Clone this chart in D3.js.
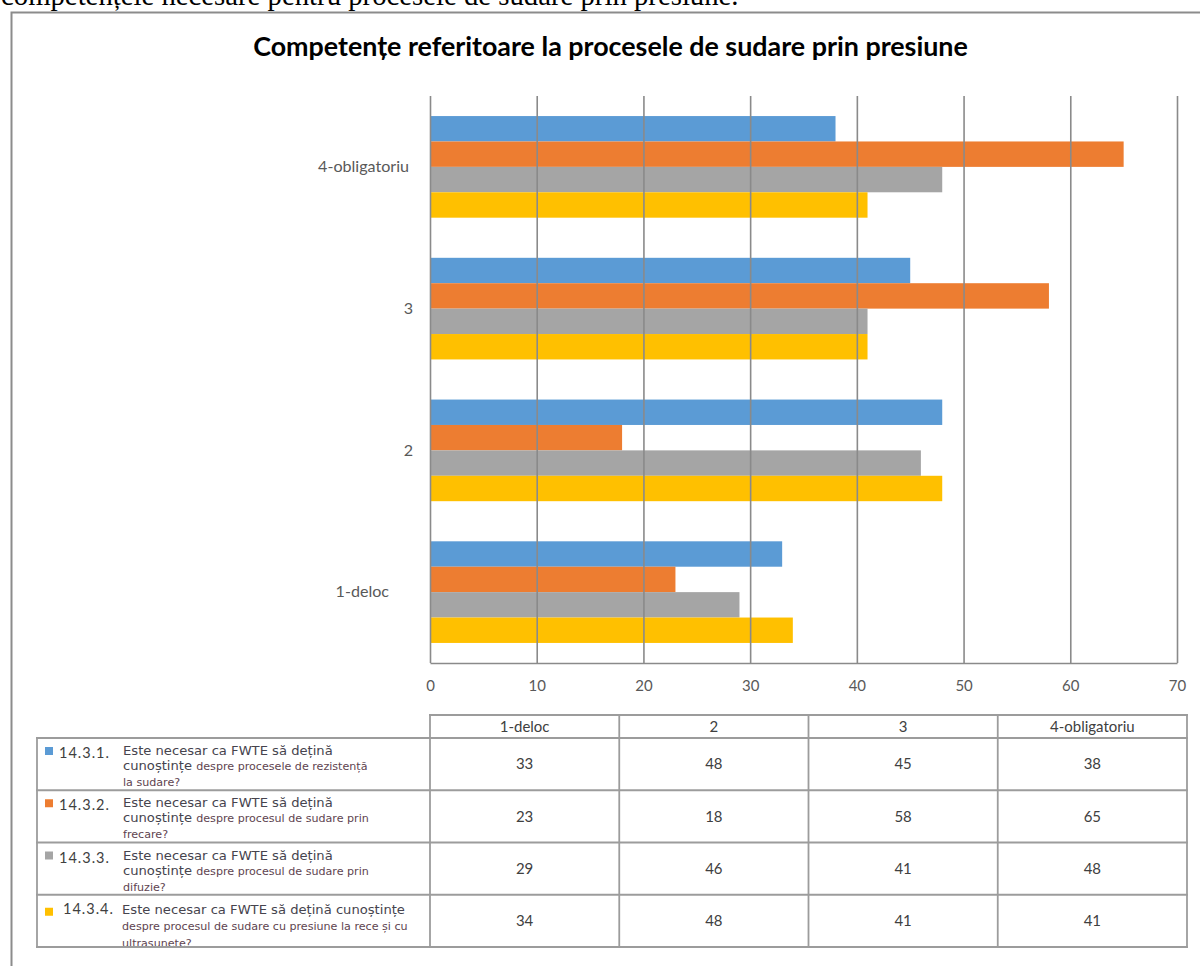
<!DOCTYPE html>
<html>
<head>
<meta charset="utf-8">
<script src="https://cdn.jsdelivr.net/npm/d3@7"></script>
<style>
  html, body { margin: 0; padding: 0; background: #fff; }
  svg { display: block; }
</style>
</head>
<body>
<svg id="chart" width="1200" height="966"></svg>
<script>
// ---- data ----
const categories = ["1-deloc", "2", "3", "4-obligatoriu"];
const seriesCodes = ["14.3.1.", "14.3.2.", "14.3.3.", "14.3.4."];
const series1 = [33, 48, 45, 38];
const series2 = [23, 18, 58, 65];
const series3 = [29, 46, 41, 48];
const series4 = [34, 48, 41, 41];
const seriesValues = [series1, series2, series3, series4];
const xTicks = [0, 10, 20, 30, 40, 50, 60, 70];

// question text of each series, line by line; "b" = regular run, "s" = small run
const questionLines = [
  [[["b", "Este necesar ca FWTE să dețină"]],
   [["b", "cunoștințe "], ["s", "despre procesele de rezistență"]],
   [["s", "la sudare?"]]],
  [[["b", "Este necesar ca FWTE să dețină"]],
   [["b", "cunoștințe "], ["s", "despre procesul de sudare prin"]],
   [["s", "frecare?"]]],
  [[["b", "Este necesar ca FWTE să dețină"]],
   [["b", "cunoștințe "], ["s", "despre procesul de sudare prin"]],
   [["s", "difuzie?"]]],
  [[["b", "Este necesar ca FWTE să dețină cunoștințe"]],
   [["s", "despre procesul de sudare cu presiune la rece și cu"]],
   [["s", "ultrasunete?"]]]
];

const chartTitle = "Competențe referitoare la procesele de sudare prin presiune";
const pageLine = "competențele necesare pentru procesele de sudare prin presiune.";

// ---- styles ----
const seriesColors = ["#5B9BD5", "#ED7D31", "#A5A5A5", "#FFC000"];
const gridColor = "#8a8a8a";
const tableColor = "#9c9c9c";
const labelColor = "#595959";
const sansFont = "Lato, 'Open Sans', sans-serif";
const questionFont = "'DejaVu Sans', Verdana, sans-serif";

const svg = d3.select("#chart");
svg.append("rect").attr("width", 1200).attr("height", 966).attr("fill", "#fff");

// scale font size of a text element so it spans the wanted width
function fitWidth(sel, width) {
  const w = sel.node().getComputedTextLength();
  const fs = parseFloat(sel.attr("font-size"));
  const nfs = fs * width / w;
  sel.attr("font-size", nfs);
  return nfs;
}

// running text line of the surrounding document, clipped by the page top
const pageText = svg.append("text")
  .attr("x", 1).attr("y", 5)
  .attr("font-family", "'Liberation Serif', 'Times New Roman', serif")
  .attr("font-size", 24).attr("fill", "#000")
  .text(pageLine);
fitWidth(pageText, 738);

// chart frame
svg.append("path")
  .attr("d", "M11.5,966 V12.5 H1200")
  .attr("fill", "none").attr("stroke", "#8c8c8c").attr("stroke-width", 2);

// title
const title = svg.append("text")
  .attr("x", 610.5).attr("y", 56)
  .attr("text-anchor", "middle")
  .attr("font-family", sansFont).attr("font-weight", "bold")
  .attr("font-size", 22).attr("fill", "#000")
  .text(chartTitle);
fitWidth(title, 715);

// ---- plot area ----
const plot = { left: 430, right: 1177, top: 96, bottom: 663 };

const x = d3.scaleLinear().domain([0, 70]).range([plot.left, plot.right]);
const y = d3.scaleBand()
  .domain(categories.slice().reverse())
  .range([plot.top, plot.bottom])
  .paddingInner(0.283).paddingOuter(0.1415);
const ySeries = d3.scaleBand()
  .domain(d3.range(seriesCodes.length))
  .range([0, y.bandwidth()]);

// measure label font size from the widest category label
const probe = svg.append("text").attr("font-family", sansFont)
  .attr("font-size", 15).text("4-obligatoriu");
const labelSize = fitWidth(probe, 91);
probe.remove();

// bars
const barData = [];
seriesValues.forEach((vals, s) => {
  vals.forEach((v, c) => barData.push({ s, cat: categories[c], v }));
});
svg.append("g").selectAll("rect")
  .data(barData)
  .join("rect")
  .attr("x", x(0))
  .attr("y", d => y(d.cat) + ySeries(d.s))
  .attr("width", d => x(d.v) - x(0))
  .attr("height", ySeries.bandwidth())
  .attr("fill", d => seriesColors[d.s]);

// vertical gridlines + bottom axis
const xAxis = svg.append("g")
  .attr("transform", `translate(0,${plot.bottom})`)
  .call(d3.axisBottom(x).tickValues(xTicks)
    .tickSize(-(plot.bottom - plot.top)).tickSizeOuter(0).tickPadding(17));
xAxis.selectAll("line").attr("stroke", gridColor).attr("stroke-width", 1.6);
xAxis.select(".domain").attr("stroke", gridColor).attr("stroke-width", 1.6);
xAxis.selectAll("text")
  .attr("font-family", sansFont).attr("font-size", labelSize * 0.93)
  .attr("fill", labelColor);
xAxis.selectAll(".tick").lower();

// category labels
const labelShift = { "1-deloc": -24, "4-obligatoriu": -4 };
const yAxis = svg.append("g")
  .attr("transform", `translate(${plot.left},0)`)
  .call(d3.axisLeft(y).tickSize(0).tickPadding(17));
yAxis.select(".domain").remove();
yAxis.selectAll("text")
  .attr("font-family", sansFont).attr("font-size", labelSize)
  .attr("fill", labelColor)
  .attr("dx", d => labelShift[d] || 0);

// ---- data table ----
const table = { left: 37, colStart: 430, right: 1187, top: 715, headTop: 715, bodyTop: 738, rowH: 52.25 };
const colX = d3.scaleBand().domain(categories).range([table.colStart, table.right]);
const rowY = d3.scaleBand().domain(d3.range(seriesCodes.length))
  .range([table.bodyTop, table.bodyTop + table.rowH * seriesCodes.length]);
const tableBottom = rowY.range()[1];

const tg = svg.append("g");

// header labels
tg.selectAll("text.head")
  .data(categories)
  .join("text")
  .attr("class", "head")
  .attr("x", d => colX(d) + colX.bandwidth() / 2)
  .attr("y", (table.headTop + table.bodyTop) / 2)
  .attr("dy", "0.35em")
  .attr("text-anchor", "middle")
  .attr("font-family", sansFont).attr("font-size", labelSize * 0.93)
  .attr("fill", "#404040")
  .text(d => d);

// values
const cellData = [];
seriesValues.forEach((vals, s) => vals.forEach((v, c) => cellData.push({ s, cat: categories[c], v })));
tg.selectAll("text.val")
  .data(cellData)
  .join("text")
  .attr("class", "val")
  .attr("x", d => colX(d.cat) + colX.bandwidth() / 2)
  .attr("y", d => rowY(d.s) + rowY.bandwidth() / 2)
  .attr("dy", "0.35em")
  .attr("text-anchor", "middle")
  .attr("font-family", sansFont).attr("font-size", labelSize * 0.93)
  .attr("fill", "#404040")
  .text(d => d.v);

// legend keys + series codes
const lastRow = seriesCodes.length - 1;
tg.selectAll("rect.key")
  .data(seriesCodes)
  .join("rect")
  .attr("class", "key")
  .attr("x", 45)
  .attr("y", (d, i) => rowY(i) + (i === lastRow ? 13 : 9))
  .attr("width", 8).attr("height", 8)
  .attr("fill", (d, i) => seriesColors[i]);

tg.selectAll("text.code")
  .data(seriesCodes)
  .join("text")
  .attr("class", "code")
  .attr("x", (d, i) => i === lastRow ? 63 : 59)
  .attr("y", (d, i) => rowY(i) + (i === lastRow ? 19 : 20))
  .attr("font-family", sansFont).attr("font-size", 14.5)
  .attr("letter-spacing", 1)
  .attr("fill", "#404040")
  .text(d => d);

// question text: size the regular and small runs from reference lines
const probeB = svg.append("text").attr("font-family", questionFont).attr("font-size", 11)
  .text("Este necesar ca FWTE să dețină");
const bigSize = fitWidth(probeB, 210);
probeB.remove();
const probeS = svg.append("text").attr("font-family", questionFont).attr("font-size", 9)
  .text("despre procesul de sudare cu presiune la rece și cu");
const smallSize = fitWidth(probeS, 286);
probeS.remove();

const lineOffsets = [[17, 32, 48], [17, 32, 48], [17, 32, 48], [19, 35, 52]];
questionLines.forEach((lines, r) => {
  lines.forEach((runs, li) => {
    const t = tg.append("text")
      .attr("x", r === lastRow ? 122 : 123)
      .attr("y", rowY(r) + lineOffsets[r][li])
      .attr("font-family", questionFont);
    runs.forEach(([kind, str]) => {
      t.append("tspan")
        .attr("font-size", kind === "b" ? bigSize : smallSize)
        .attr("fill", kind === "b" ? "#46444e" : "#5e4450")
        .text(str);
    });
  });
});

// table grid lines (drawn last so borders sit on top of the text)
const lines = [];
// header box
lines.push([table.colStart, table.headTop, table.right, table.headTop]);
// horizontal rules of body
d3.range(seriesCodes.length + 1).forEach(i => {
  const yy = table.bodyTop + i * table.rowH;
  lines.push([table.left, yy, table.right, yy]);
});
// verticals
lines.push([table.left, table.bodyTop, table.left, tableBottom]);
categories.forEach(c => lines.push([colX(c), table.headTop, colX(c), tableBottom]));
lines.push([table.right, table.headTop, table.right, tableBottom]);

tg.selectAll("line.grid")
  .data(lines)
  .join("line")
  .attr("class", "grid")
  .attr("x1", d => d[0]).attr("y1", d => d[1])
  .attr("x2", d => d[2]).attr("y2", d => d[3])
  .attr("stroke", tableColor).attr("stroke-width", 1.8)
  .attr("stroke-linecap", "square");
</script>
</body>
</html>
